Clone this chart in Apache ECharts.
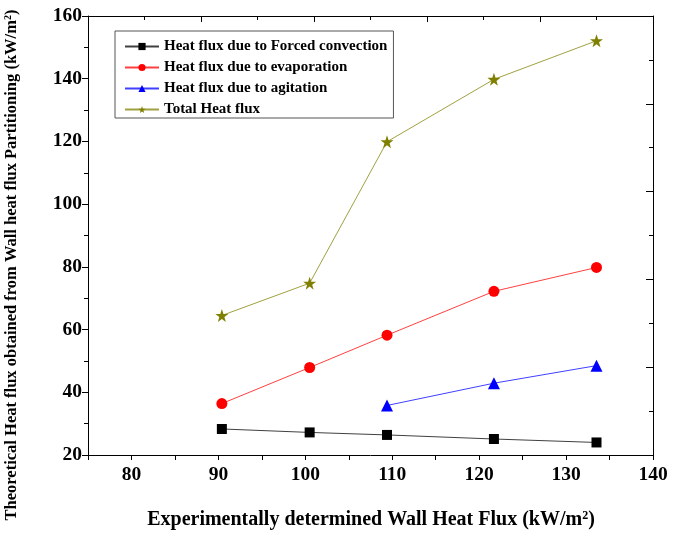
<!DOCTYPE html>
<html>
<head>
<meta charset="utf-8">
<script src="https://cdn.jsdelivr.net/npm/echarts@6/dist/echarts.min.js"></script>
<style>
  html, body { margin: 0; padding: 0; background: #fff; }
  #chart { width: 685px; height: 538px; }
</style>
</head>
<body>
<div id="chart"></div>
<script>
// wall heat flux values (kW/m2)
var wallFlux = [90.4, 100.5, 109.4, 121.7, 133.5];
var agitFlux = [109.4, 121.7, 133.5];

var forcedConv = [28.3, 27.2, 26.4, 25.1, 24.0];
var evaporation = [36.4, 47.9, 58.2, 72.2, 79.8];
var agitation = [35.8, 42.9, 48.5];
var totalFlux = [64.5, 74.8, 119.9, 139.8, 152.1];

var seriesNames = [
    'Heat flux due to Forced convection',
    'Heat flux due to evaporation',
    'Heat flux due to agitation',
    'Total Heat flux'
];

var FONT = 'Liberation Serif';
var STAR = 'path://M50,0 L61.8,35.1 L98.1,35.1 L68.9,56.8 L79.4,91.9 L50,70.4 L20.6,91.9 L31.1,56.8 L1.9,35.1 L38.2,35.1 Z';

// pair up x and y
function pairs(xs, ys) {
    return ys.map(function(v, i) { return [xs[i], v]; });
}

function makeSeries(name, xs, ys, color, symbol, symbolSize) {
    return {
        name: name,
        type: 'line',
        xAxisIndex: 0,
        yAxisIndex: 0,
        data: pairs(xs, ys),
        symbol: symbol,
        symbolSize: symbolSize,
        itemStyle: { color: color },
        lineStyle: { color: color, width: 1, opacity: 0.75 },
        emphasis: { disabled: true }
    };
}

var chart = echarts.init(document.getElementById('chart'));

chart.setOption({
    animation: false,
    backgroundColor: '#fff',
    grid: { left: 88, right: 32, top: 16, bottom: 83 },
    legend: {
        orient: 'vertical',
        left: 115,
        top: 31,
        width: 280,
        padding: [8, 6, 1, 9],
        itemGap: 6,
        itemWidth: 34,
        itemHeight: 9,
        borderColor: '#555',
        borderWidth: 1,
        textStyle: { fontFamily: FONT, fontWeight: 'bold', fontSize: 15, lineHeight: 14, color: '#000' },
        data: seriesNames
    },
    xAxis: [{
        type: 'value',
        position: 'bottom',
        min: 75,
        max: 140,
        interval: 5,
        axisLine: { lineStyle: { color: '#000', width: 1 } },
        axisTick: { length: 5, lineStyle: { color: '#000' } },
        splitLine: { show: false },
        axisLabel: {
            margin: 10,
            fontFamily: FONT,
            fontWeight: 'bold',
            fontSize: 19.5,
            color: '#000',
            formatter: function(v) { return v % 10 === 0 ? String(v) : ''; }
        }
    }, {
        type: 'value',
        position: 'top',
        min: 0,
        max: 5,
        interval: 1,
        axisLine: { show: true, lineStyle: { color: '#000', width: 1 } },
        axisTick: { show: true, inside: true, length: 6, lineStyle: { color: '#000' } },
        minorTick: { show: true, splitNumber: 2, length: 4, lineStyle: { color: '#000' } },
        axisLabel: { show: false },
        splitLine: { show: false }
    }],
    yAxis: [{
        type: 'value',
        position: 'left',
        min: 20,
        max: 160,
        interval: 20,
        axisLine: { show: true, lineStyle: { color: '#000', width: 1 } },
        axisTick: { show: true, length: 6, lineStyle: { color: '#000' } },
        minorTick: { show: true, splitNumber: 2, length: 4, lineStyle: { color: '#000' } },
        splitLine: { show: false },
        axisLabel: {
            margin: 6,
            fontFamily: FONT,
            fontWeight: 'bold',
            fontSize: 19.5,
            color: '#000'
        }
    }, {
        type: 'value',
        position: 'right',
        min: 0,
        max: 5,
        interval: 1,
        axisLine: { show: true, lineStyle: { color: '#000', width: 1 } },
        axisTick: { show: true, inside: true, length: 7, lineStyle: { color: '#000' } },
        minorTick: { show: true, splitNumber: 2, length: 4, lineStyle: { color: '#000' } },
        axisLabel: { show: false },
        splitLine: { show: false }
    }],
    graphic: [{
        type: 'text',
        x: 371,
        y: 520,
        style: {
            text: 'Experimentally determined Wall Heat Flux (kW/m{sup|2})',
            fontFamily: FONT,
            fontWeight: 'bold',
            fontSize: 20,
            fill: '#000',
            align: 'center',
            verticalAlign: 'middle',
            rich: {
                sup: { fontFamily: FONT, fontWeight: 'bold', fontSize: 12, verticalAlign: 'top', padding: [0, 0, 8, 0] }
            }
        }
    }, {
        type: 'text',
        x: 12,
        y: 265,
        rotation: Math.PI / 2,
        style: {
            text: 'Theoretical Heat flux obtained from Wall heat flux Partitioning (kW/m{sup|2})',
            fontFamily: FONT,
            fontWeight: 'bold',
            fontSize: 16.5,
            fill: '#000',
            align: 'center',
            verticalAlign: 'middle',
            rich: {
                sup: { fontFamily: FONT, fontWeight: 'bold', fontSize: 10, verticalAlign: 'top', padding: [0, 0, 6, 0] }
            }
        }
    }],
    series: [
        makeSeries(seriesNames[0], wallFlux, forcedConv, '#000000', 'rect', 10),
        makeSeries(seriesNames[1], wallFlux, evaporation, '#ff0000', 'circle', 11),
        makeSeries(seriesNames[2], agitFlux, agitation, '#0000ff', 'triangle', 12),
        makeSeries(seriesNames[3], wallFlux, totalFlux, '#808000', STAR, 13)
    ]
});
</script>
</body>
</html>
